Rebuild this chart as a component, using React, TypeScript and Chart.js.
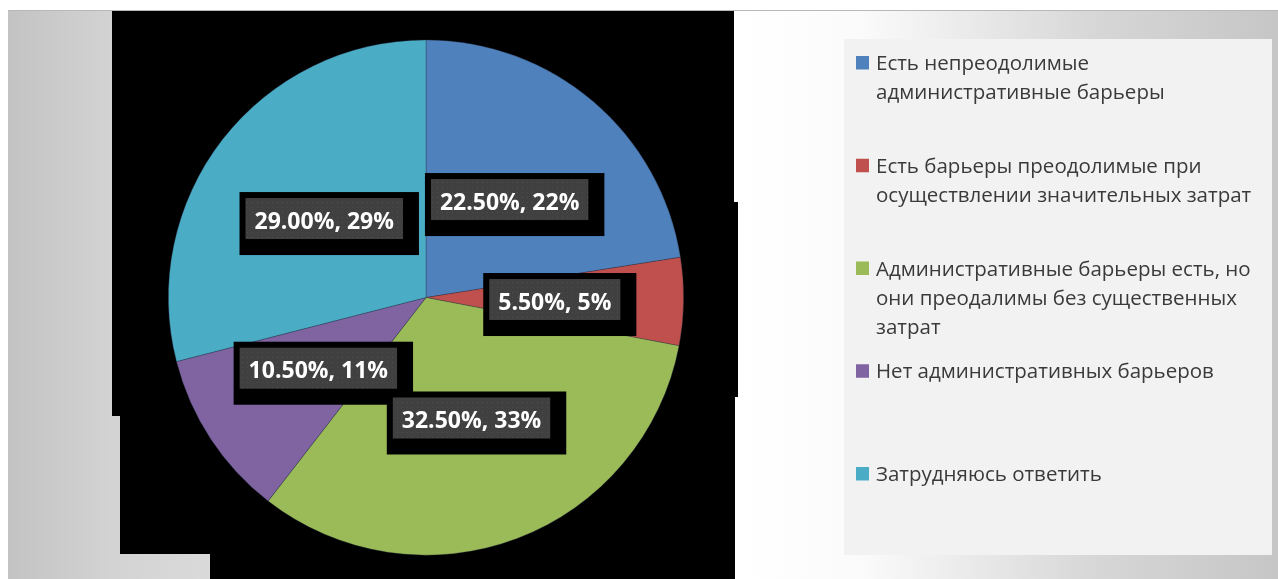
import React, { useEffect, useRef } from "react";
import { Chart, registerables } from "chart.js";

Chart.register(...registerables);

// ---- data ----
const categories: string[][] = [
  ["Есть непреодолимые", "административные барьеры"],
  ["Есть барьеры преодолимые при", "осуществлении значительных затрат"],
  ["Административные барьеры есть, но", "они преодалимы без существенных", "затрат"],
  ["Нет административных барьеров"],
  ["Затрудняюсь ответить"],
];
const shares = [22.5, 5.5, 32.5, 10.5, 29.0];
const roundedLabels = ["22%", "5%", "33%", "11%", "29%"];
const colors = ["#4f81bd", "#c0504d", "#9bbb59", "#8064a2", "#4bacc6"];

const W = 1278;
const H = 579;

function makePattern(ctx: CanvasRenderingContext2D) {
  const c = document.createElement("canvas");
  c.width = 5;
  c.height = 5;
  const p = c.getContext("2d")!;
  p.fillStyle = "#404040";
  p.fillRect(0, 0, 5, 5);
  p.fillStyle = "#4e4e4e";
  p.fillRect(2, 2, 1, 1);
  return ctx.createPattern(c, "repeat");
}

const backgroundPlugin = {
  id: "bgPlugin",
  beforeDraw(chart: any) {
    const ctx: CanvasRenderingContext2D = chart.ctx;
    ctx.save();
    ctx.fillStyle = "#ffffff";
    ctx.fillRect(0, 0, W, H);
    // frame gradient
    const g = ctx.createLinearGradient(8, 0, W, 0);
    g.addColorStop(0, "#c3c3c3");
    g.addColorStop(104 / 1270, "#d3d3d3");
    g.addColorStop(202 / 1270, "#dadada");
    g.addColorStop(732 / 1270, "#ffffff");
    g.addColorStop(850 / 1270, "#fbfbfb");
    g.addColorStop(1092 / 1270, "#d6d6d6");
    g.addColorStop(1, "#c6c6c6");
    ctx.fillStyle = g;
    ctx.fillRect(8, 10, W - 8, H - 10);
    ctx.fillStyle = "#b8b8b8";
    ctx.fillRect(8, 10, W - 8, 1);
    // black plot backdrop
    ctx.fillStyle = "#000000";
    ctx.beginPath();
    ctx.moveTo(112, 11);
    ctx.lineTo(734, 11);
    ctx.lineTo(734, 202);
    ctx.lineTo(738, 202);
    ctx.lineTo(738, 397);
    ctx.lineTo(735, 397);
    ctx.lineTo(735, H);
    ctx.lineTo(210, H);
    ctx.lineTo(210, 554);
    ctx.lineTo(120, 554);
    ctx.lineTo(120, 416);
    ctx.lineTo(112, 416);
    ctx.closePath();
    ctx.fill();
    // legend box
    ctx.fillStyle = "#f2f2f2";
    ctx.fillRect(844, 39, 428, 516);
    ctx.restore();
  },
};

const labelPlugin = {
  id: "labelPlugin",
  afterDatasetsDraw(chart: any) {
    const ctx: CanvasRenderingContext2D = chart.ctx;
    const meta = chart.getDatasetMeta(0);
    const pattern = makePattern(ctx);
    ctx.save();
    ctx.font = 'bold 23px "Open Sans"';
    const boxes: any[] = [];
    meta.data.forEach((arc: any, i: number) => {
      const p = arc.getProps(["x", "y", "startAngle", "endAngle", "outerRadius"], true);
      const mid = (p.startAngle + p.endAngle) / 2;
      const r = p.outerRadius * 0.5;
      const cx = p.x + Math.cos(mid) * r;
      const cy = p.y + Math.sin(mid) * r;
      const text = shares[i].toFixed(2) + "%, " + roundedLabels[i];
      const tw = ctx.measureText(text).width;
      const bw = tw + 18;
      const bh = 41;
      boxes.push({ x: cx - bw / 2, y: cy - bh / 2, w: bw, h: bh, text, cx, cy });
    });
    ctx.fillStyle = "#000000";
    boxes.forEach((b) => ctx.fillRect(b.x - 6, b.y - 6, b.w + 22, b.h + 22));
    boxes.forEach((b) => {
      ctx.fillStyle = (pattern as any) || "#404040";
      ctx.fillRect(b.x, b.y, b.w, b.h);
      ctx.fillStyle = "#ffffff";
      ctx.textAlign = "center";
      ctx.textBaseline = "alphabetic";
      ctx.fillText(b.text, b.cx, b.cy + 10);
    });
    ctx.restore();
  },
};

const legendPlugin = {
  id: "customLegend",
  afterDraw(chart: any) {
    const ctx: CanvasRenderingContext2D = chart.ctx;
    const labels: string[][] = chart.data.labels;
    const bg: string[] = chart.data.datasets[0].backgroundColor;
    ctx.save();
    ctx.font = '20.5px "Open Sans"';
    ctx.textAlign = "left";
    ctx.textBaseline = "alphabetic";
    labels.forEach((lines, i) => {
      const base = 70 + i * 102.75;
      ctx.fillStyle = bg[i];
      ctx.fillRect(856, base - 14, 13, 13.5);
      ctx.fillStyle = "#3a3a3a";
      lines.forEach((ln, j) => ctx.fillText(ln, 876, base + j * 29.3));
    });
    ctx.restore();
  },
};

export default function App() {
  const ref = useRef<HTMLCanvasElement | null>(null);
  useEffect(() => {
    if (!ref.current) return;
    const chart = new Chart(ref.current, {
      type: "pie",
      data: {
        labels: categories as any,
        datasets: [
          {
            data: shares,
            backgroundColor: colors,
            borderColor: "rgba(40,50,70,0.45)",
            borderWidth: 0.75,
          },
        ],
      },
      options: {
        responsive: false,
        animation: false,
        layout: { padding: { left: 168, right: 594, top: 39.5, bottom: 23.5 } },
        plugins: {
          legend: { display: false },
          tooltip: { enabled: false },
        },
      },
      plugins: [backgroundPlugin, labelPlugin, legendPlugin],
    });
    return () => chart.destroy();
  }, []);
  return (
    <div style={{ position: "absolute", left: 0, top: 0, width: W, height: H }}>
      <canvas ref={ref} width={W} height={H} style={{ display: "block" }} />
    </div>
  );
}
